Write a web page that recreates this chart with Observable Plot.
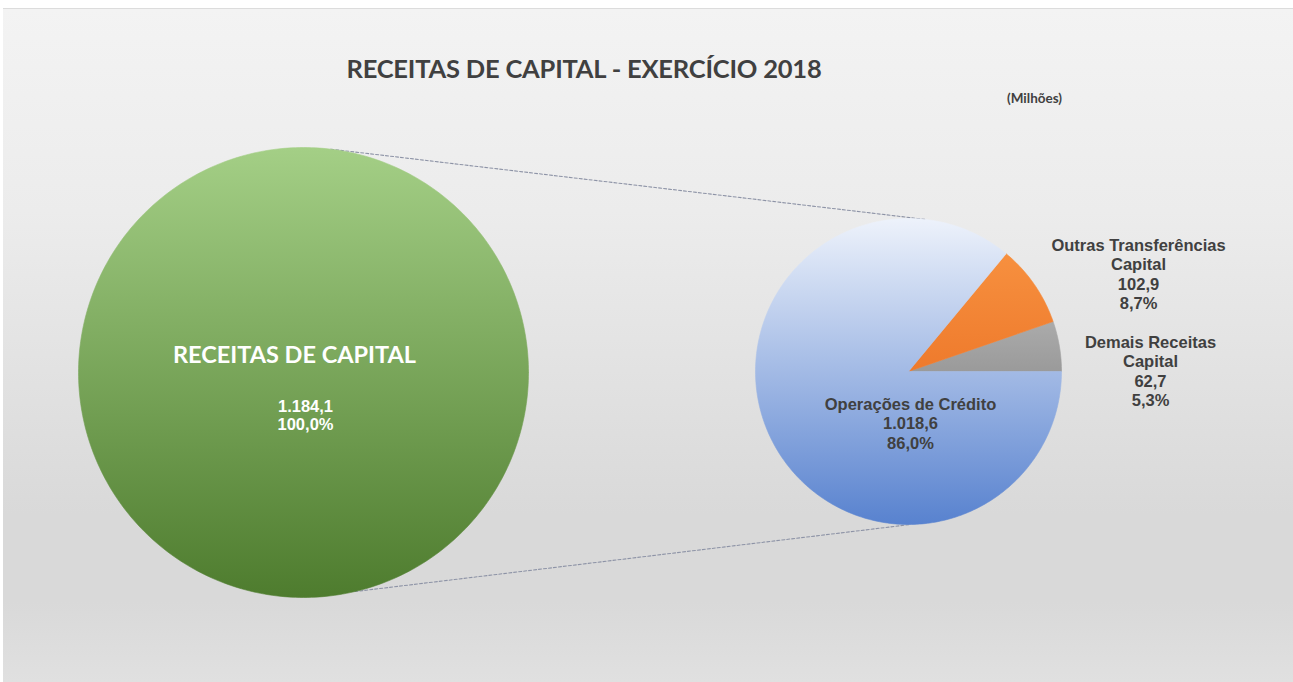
<!DOCTYPE html>
<html><head><meta charset="utf-8">
<script src="https://cdn.jsdelivr.net/npm/d3@7"></script>
<script src="https://cdn.jsdelivr.net/npm/@observablehq/plot@0.6"></script>
<style>
html,body{margin:0;padding:0;background:#fff;}
#chart{position:absolute;left:3px;top:8px;width:1290px;height:674px;overflow:hidden;
  background:linear-gradient(to bottom,#f3f3f3 0%,#ececec 30%,#d9d9d9 75%,#d9d9d9 88%,#e0e0e0 100%);
  border-top:1px solid #dcdcdc;box-sizing:border-box;}
#title{position:absolute;left:0;top:44px;width:1162px;text-align:center;font-family:Lato,"Open Sans",sans-serif;font-weight:700;font-size:25.5px;color:#404040;letter-spacing:-0.2px;}
#unit{position:absolute;left:1004px;top:81px;font-family:Lato,"Open Sans",sans-serif;font-weight:700;font-size:13.5px;color:#404040;}
#plot{position:absolute;left:0;top:119px;}
</style>
</head><body>
<div id="chart">
  <div id="title"></div>
  <div id="unit"></div>
  <div id="plot"></div>
</div>
<script>
// ---------- data ----------
const titleText = "RECEITAS DE CAPITAL - EXERCÍCIO 2018";
const unitText = "(Milhões)";
const totalName = "RECEITAS DE CAPITAL";
const totalValue = 1184.1;
const totalPercent = 100.0;
const categories = ["Demais Receitas Capital", "Outras Transferências Capital", "Operações de Crédito"];
const labelLines = [["Demais Receitas", "Capital"], ["Outras Transferências", "Capital"], ["Operações de Crédito"]];
const values = [62.7, 102.9, 1018.6];
const percents = [5.3, 8.7, 86.0];

// ---------- layout ----------
const W = 1290, H = 555;
const big = {cx: 300, cy: 244, r: 225};
const small = {cx: 905, cy: 243, r: 153};
const gradients = [
  {id: "gGray", top: "#ababab", bottom: "#9a9a9a"},
  {id: "gOrange", top: "#f7903f", bottom: "#ee7a2c"},
  {id: "gBlue", top: "#edf2fb", bottom: "#5882cf"},
  {id: "gGreen", top: "#a4cf86", bottom: "#4e7c2e"}
];
// label anchors (offset from the small pie centre), outside for small slices, inside for the large one
const labelAnchor = [{dx: 242, dy: -29}, {dx: 230, dy: -126}, {dx: 2, dy: 33}];
const lineH = 19.5;

const loc = d3.formatLocale({decimal: ",", thousands: ".", grouping: [3], currency: ["R$", ""]});
const fmtV = loc.format(",.1f");
const fmtP = v => loc.format(".1f")(v) + "%";

document.getElementById("title").textContent = titleText;
document.getElementById("unit").textContent = unitText;

// ---------- slice geometry ----------
const pt = (c, r, a) => ({x: c.cx + r * Math.cos(a), y: c.cy - r * Math.sin(a)});
function slicePoly(c, a0, a1, key) {
  const n = Math.max(8, Math.ceil((a1 - a0) / (Math.PI / 180)));
  const pts = [{...pt(c, 0, 0), key}];
  for (let i = 0; i <= n; i++) pts.push({...pt(c, c.r, a0 + (a1 - a0) * i / n), key});
  pts.push({...pt(c, 0, 0), key});
  return pts;
}
const sum = d3.sum(values);
const ends = d3.cumsum(values).map(v => v / sum * 2 * Math.PI);
const slices = values.map((v, i) => slicePoly(small, i ? ends[i - 1] : 0, ends[i], categories[i]));
const bigShape = slicePoly(big, 0, (totalValue / totalValue) * 2 * Math.PI, totalName);

// connector (series) lines
const deg = Math.PI / 180;
const connectors = [
  [{...pt(big, big.r, 83 * deg), k: "t"}, {...pt(small, small.r, 83.6 * deg), k: "t"}],
  [{...pt(big, big.r, -76.8 * deg), k: "b"}, {...pt(small, small.r, -89.2 * deg), k: "b"}]
].flat();

// ---------- texts ----------
const smallTexts = [];
labelLines.forEach((lines, i) => {
  const all = [...lines, fmtV(values[i]), fmtP(percents[i])];
  const a = labelAnchor[i];
  all.forEach((t, j) => smallTexts.push({x: small.cx + a.dx, y: small.cy + a.dy + j * lineH, text: t}));
});
const bigTitle = [{x: big.cx - 9, y: big.cy - 17, text: totalName}];
const bigVals = [fmtV(totalValue), fmtP(totalPercent)].map((t, j) => ({x: big.cx + 2, y: big.cy + 34 + j * 18.5, text: t}));

const defs = () => {
  const d = d3.create("svg:defs");
  gradients.forEach(g => {
    const lg = d.append("linearGradient").attr("id", g.id).attr("x1", 0).attr("y1", 0).attr("x2", 0).attr("y2", 1);
    lg.append("stop").attr("offset", "0%").attr("stop-color", g.top);
    lg.append("stop").attr("offset", "100%").attr("stop-color", g.bottom);
  });
  return d.node();
};

const sliceMarks = slices.map((s, i) => Plot.line(s, {x: "x", y: "y", z: "key", curve: "linear",
  fill: `url(#${gradients[i].id})`, stroke: `url(#${gradients[i].id})`, strokeWidth: 0.6}));

const chart = Plot.plot({
  width: W, height: H, margin: 0,
  x: {domain: [0, W], range: [0, W], axis: null},
  y: {domain: [0, H], range: [0, H], axis: null},
  style: {background: "transparent", overflow: "visible"},
  marks: [
    defs,
    Plot.line(connectors, {x: "x", y: "y", z: "k", stroke: "#8d93a6", strokeWidth: 1.1, strokeDasharray: "3,2"}),
    Plot.line(bigShape, {x: "x", y: "y", z: "key", fill: "url(#gGreen)", stroke: "url(#gGreen)", strokeWidth: 0.6}),
    ...sliceMarks,
    Plot.text(bigTitle, {x: "x", y: "y", text: "text", fill: "white", fontSize: 23.5, fontWeight: "bold", fontFamily: "Lato, 'Open Sans', sans-serif"}),
    Plot.text(bigVals, {x: "x", y: "y", text: "text", fill: "white", fontSize: 16.5, fontWeight: "bold", fontFamily: "'Liberation Sans', Arial, sans-serif"}),
    Plot.text(smallTexts, {x: "x", y: "y", text: "text", fill: "#404040", fontSize: 16.5, fontWeight: "bold", fontFamily: "'Liberation Sans', Arial, sans-serif"})
  ]
});
document.getElementById("plot").appendChild(chart);
</script>
</body></html>
